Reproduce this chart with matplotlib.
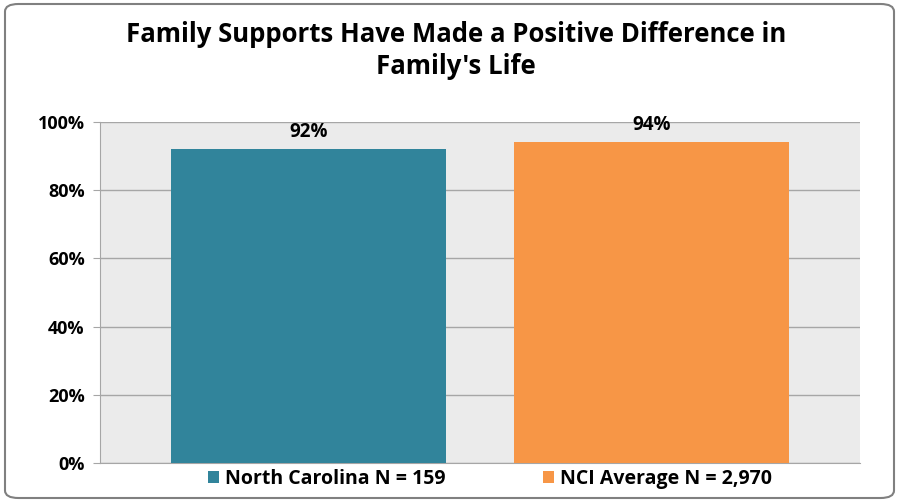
import matplotlib.pyplot as plt
from matplotlib.patches import FancyBboxPatch

labels = ['North Carolina N = 159', 'NCI Average N = 2,970']
values = [92, 94]
colors = ['#31849B', '#F79646']
yticks = [0, 20, 40, 60, 80, 100]

plt.rcParams['font.family'] = ['Open Sans', 'DejaVu Sans']

fig = plt.figure(figsize=(8.97, 5), dpi=100)
ax = fig.add_axes([100 / 897, 37 / 500, 760 / 897, 341 / 500])

border = FancyBboxPatch((5 / 897, 2 / 500), 889 / 897, 494 / 500,
                        boxstyle='round,pad=0,rounding_size=0.015',
                        transform=fig.transFigure, facecolor='none',
                        edgecolor='#808080', linewidth=1.5)
fig.patches.append(border)

ax.set_facecolor('#EBEBEB')
x = [0, 1]
bars = ax.bar(x, values, width=0.8, color=colors, label=labels, zorder=3)
for xi, v in zip(x, values):
    ax.text(xi, v + 2.2, f'{v}%', ha='center', va='bottom',
            fontsize=13.5, fontweight='bold', zorder=4)

ax.set_xlim(-0.606, 1.606)
ax.set_ylim(0, 100)
ax.set_yticks(yticks)
ax.set_yticklabels([f'{t}%' for t in yticks], fontsize=13, fontweight='bold')
ax.set_xticks([])
ax.grid(axis='y', color='#A6A6A6', linewidth=1, zorder=0)
for s in ['top', 'right']:
    ax.spines[s].set_visible(False)
ax.spines['left'].set_color('#A6A6A6')
ax.spines['bottom'].set_color('#A6A6A6')
ax.tick_params(axis='y', length=5, color='#A6A6A6', pad=6)

ax.legend(handles=bars, labels=labels, loc='upper center',
          bbox_to_anchor=(0.513, 0.035), ncol=2, frameon=False,
          prop={'weight': 'bold', 'size': 14}, handlelength=0.6,
          handleheight=0.6, handletextpad=0.3, columnspacing=5.0)

fig.suptitle("Family Supports Have Made a Positive Difference in\nFamily's Life",
             x=0.508, y=0.958, fontsize=18.5, fontweight='bold', linespacing=1.25)

fig.savefig('out.png', dpi=100)
